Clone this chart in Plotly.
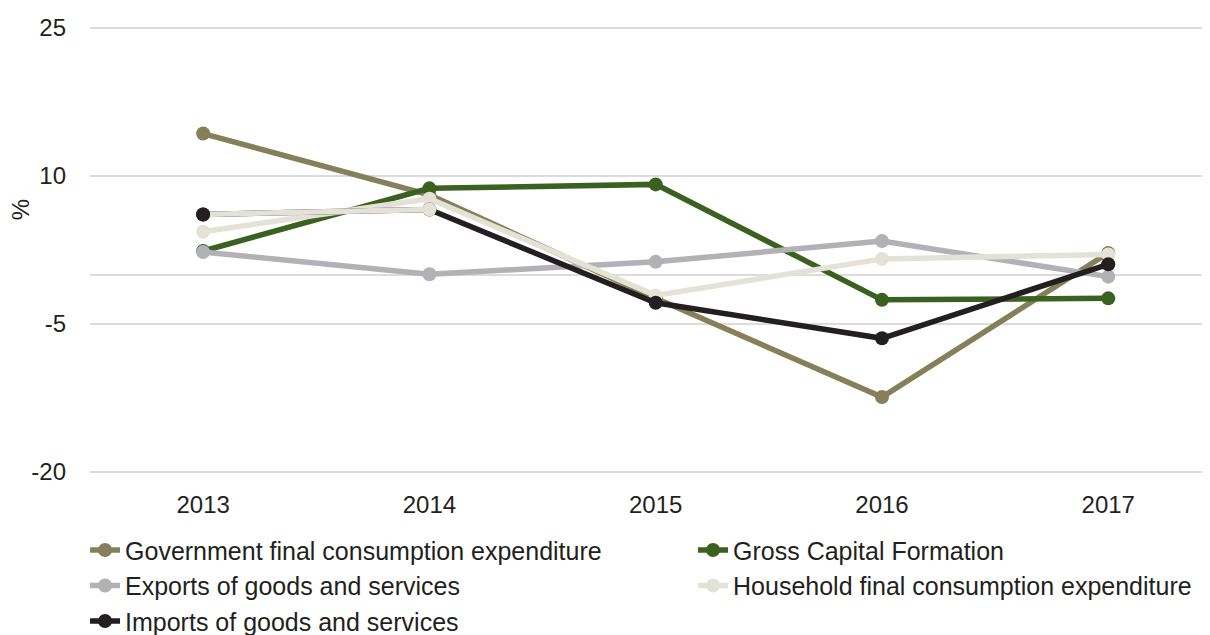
import plotly.graph_objects as go

years = ["2013", "2014", "2015", "2016", "2017"]
government = [14.3, 8.1, -2.4, -12.4, 2.2]
gross_capital = [2.4, 8.75, 9.15, -2.55, -2.4]
exports = [2.3, 0.05, 1.3, 3.4, -0.2]
household = [4.35, 7.7, -2.1, 1.6, 2.05]
imports = [6.1, 6.6, -2.85, -6.45, 1.05]

names = ["Government final consumption expenditure", "Gross Capital Formation",
         "Exports of goods and services", "Household final consumption expenditure",
         "Imports of goods and services"]
series = [government, gross_capital, exports, household, imports]
colors = ["#85805a", "#3b6121", "#b1b1b6", "#e4e2d7", "#231f20"]
legend_ids = ["legend", "legend2", "legend", "legend2", "legend"]

fig = go.Figure()
for n, s, c, lg in zip(names, series, colors, legend_ids):
    fig.add_trace(go.Scatter(x=years, y=s, name=n, mode="lines+markers",
                             line=dict(color=c, width=5.5),
                             marker=dict(color=c, size=14), legend=lg))
# first imports segment appears in light colour in the reference
fig.add_trace(go.Scatter(x=years[:2], y=imports[:2], mode="lines+markers", showlegend=False,
                         line=dict(color=colors[3], width=5.5),
                         marker=dict(color=[colors[4], colors[3]], size=14)))

font = "Liberation Sans, Arial, sans-serif"
legend_common = dict(orientation="v", xanchor="left", y=-0.119, yanchor="top",
                     font=dict(size=25), tracegroupgap=0, itemwidth=30,
                     bgcolor="rgba(0,0,0,0)")
fig.update_layout(
    width=1210, height=627,
    margin=dict(l=82, r=0, t=18, b=161, autoexpand=False),
    paper_bgcolor="white", plot_bgcolor="white",
    font=dict(family=font, size=24, color="#231f20"),
    showlegend=True,
    legend=dict(x=-0.0044, **legend_common),
    legend2=dict(x=0.5346, **legend_common),
    xaxis=dict(type="category", range=[-0.5, 4.485], showgrid=False, showline=False,
               ticks="", ticklabelstandoff=14, tickfont=dict(size=24)),
    yaxis=dict(range=[-20.2, 25.2], tickvals=[-20, -5, 10, 25], ticktext=["-20", "-5", "10", "25"],
               showgrid=True, gridcolor="#dcdcdc", gridwidth=1.5,
               zeroline=True, zerolinecolor="#dcdcdc", zerolinewidth=1.5,
               showline=False, ticks="", ticklabelstandoff=23, tickfont=dict(size=24)),
    annotations=[dict(text="%", xref="paper", yref="paper", x=-0.062, y=0.589,
                      textangle=-90, showarrow=False, font=dict(size=24),
                      xanchor="center", yanchor="middle")],
)

fig.write_html("out.html")
